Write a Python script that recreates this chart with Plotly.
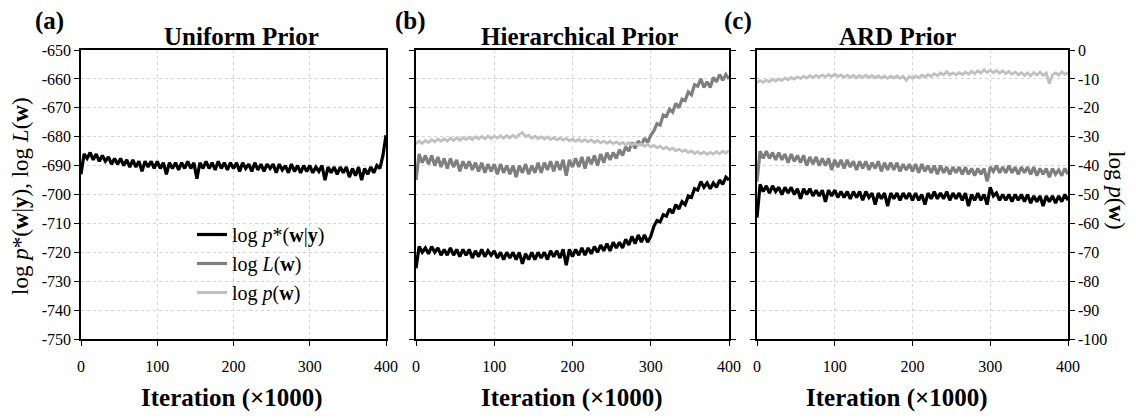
import plotly.graph_objects as go

# ---------------- data ----------------
iters = list(range(0, 401, 4))  # iteration (x1000), 101 samples

# (a) Uniform prior: log p*(w|y) (left axis units)
a_post = [-693, -686, -687.5, -685.5, -688, -686, -688.5, -686.5, -688.5, -687,
          -689.5, -687.5, -689.5, -687.5, -690, -688, -690.5, -688, -690.5, -688.5,
          -692, -688.5, -690.5, -688.5, -691, -688.5, -691, -689, -693, -689,
          -691, -689, -691.5, -689, -691, -688.5, -691, -689, -694.5, -689,
          -691, -688.5, -691, -689, -691.5, -688.5, -691, -689, -691.5, -689,
          -691, -689, -692, -689, -691, -689.5, -692, -689, -691.5, -689.5,
          -692, -689.5, -691, -689.5, -692.5, -689.5, -691.5, -690, -692.5, -689.5,
          -692, -690, -692.5, -690, -692, -690, -692.5, -690.5, -692, -690,
          -695, -690.5, -692.5, -690.5, -693, -690.5, -692.5, -690.5, -694, -691,
          -693.5, -690.5, -695, -691, -693, -690.5, -692.5, -690, -691, -686.5,
          -679.5]

# (b) Hierarchical prior
b_post = [-725.5, -718, -720, -718.5, -720.5, -718, -720, -718.5, -721, -719,
          -721, -718.5, -721, -719, -721.5, -719, -721, -719, -722, -719.5,
          -721.5, -719, -721.5, -719.5, -721, -719.5, -722, -720, -722.5, -720,
          -722, -720, -722.5, -720, -724, -720.5, -722.5, -720, -722.5, -720,
          -722, -720, -722.5, -719.5, -721.5, -719.5, -722, -719, -724.5, -719,
          -721.5, -719, -721, -718.5, -721, -718.5, -720.5, -718, -720, -717.5,
          -719.5, -717, -719.5, -716.5, -718.5, -716.5, -718.5, -715.5, -717.5, -714.5,
          -717, -714, -716.5, -714, -716.5, -714.5, -711, -709, -709.5, -707,
          -707.5, -705, -706.5, -703.5, -705, -702.5, -703.5, -700.5, -701, -698,
          -698.5, -695.5, -697.5, -696, -698, -696, -697.5, -695, -696.5, -694,
          -695]
b_lik = [-695, -686, -689, -686.5, -689.5, -686.5, -690, -687, -690.5, -687.5,
         -691, -687.5, -690.5, -688, -692, -688.5, -691, -688.5, -691.5, -689,
         -692, -689, -692.5, -689.5, -692, -689.5, -693, -689.5, -692.5, -690,
         -693, -690, -694, -690, -692.5, -689.5, -693, -690, -692.5, -689,
         -692.5, -689, -691.5, -688.5, -692, -688.5, -691.5, -688, -693.5, -688,
         -690.5, -687.5, -690.5, -687, -691, -687, -689.5, -686.5, -690, -686,
         -689, -685.5, -688, -685.5, -687.5, -684.5, -686.5, -683.5, -685, -682,
         -684, -681.5, -683, -680.5, -682, -679.5, -678, -675.5, -676, -672.5,
         -673, -670.5, -671.5, -668.5, -670, -667, -667.5, -664.5, -665.5, -662,
         -662.5, -660, -663, -661, -663, -659.5, -661, -658.5, -660.5, -658.5,
         -660]
b_prior = [-32.5, -31.5, -32.3, -31.3, -32, -31, -31.8, -30.8, -31.6, -30.7,
           -31.5, -30.5, -31.3, -30.4, -31.2, -30.3, -31, -30.2, -31, -30,
           -30.8, -29.9, -30.7, -29.8, -30.6, -29.8, -30.5, -29.7, -30.5, -29.6,
           -30.4, -29.5, -30.3, -29.2, -28.6, -30, -29.5, -30.5, -29.8, -30.7,
           -30, -30.8, -30.1, -31, -30.3, -31.1, -30.4, -31.2, -30.6, -31.4,
           -30.8, -31.6, -30.9, -31.7, -31, -31.8, -31.1, -32, -31.3, -32.1,
           -31.5, -32.3, -31.6, -32.4, -31.8, -32.6, -32, -32.8, -32.1, -32.9,
           -32.3, -33, -32.5, -33.3, -32.7, -33.5, -33, -33.8, -33.3, -34.2,
           -33.6, -34.5, -34, -34.9, -34.3, -35.1, -34.6, -35.5, -34.9, -35.8,
           -35.2, -36, -35.3, -36.1, -35.4, -36, -35.2, -35.9, -35, -35.7,
           -34.8]  # right axis units

# (c) ARD prior
c_post = [-708, -696.5, -699, -697, -699.5, -697, -699, -697.5, -700, -697.5,
          -699.5, -697.5, -700, -698, -701.5, -698, -700, -698, -700.5, -698.5,
          -700.5, -698.5, -702.5, -698.5, -700.5, -698.5, -701, -699, -701, -699,
          -701.5, -699, -701, -699, -702, -699, -701, -699.5, -703.5, -699.5,
          -701.5, -699.5, -704, -699.5, -701.5, -699.5, -702, -699.5, -701.5, -699.5,
          -702, -699.5, -702, -700, -703.5, -699.5, -701.5, -699, -701.5, -699.5,
          -701.5, -699, -702, -699.5, -701.5, -699.5, -702, -699.5, -704, -700,
          -702, -699.5, -702, -700, -703.5, -697.5, -700.5, -699.5, -702, -700,
          -702, -700, -702.5, -700, -702, -700, -702.5, -700, -703, -700.5,
          -702.5, -700.5, -704, -700.5, -702.5, -700.5, -703, -700.5, -702.5, -700,
          -702]
c_lik = [-695.5, -685, -687.5, -685, -687.5, -685.5, -688, -685.5, -688, -686,
         -689, -686, -688.5, -686.5, -689, -686.5, -690, -687, -689.5, -687,
         -690, -687.5, -690, -687.5, -691.5, -688, -690.5, -688, -691, -688,
         -690.5, -688.5, -691.5, -688.5, -691, -688.5, -691.5, -689, -691, -688.5,
         -692, -689, -691.5, -689, -691.5, -689, -692, -689.5, -691.5, -689.5,
         -692, -689.5, -692.5, -689.5, -692, -690, -692.5, -690, -693, -690,
         -692.5, -690.5, -693, -690.5, -692.5, -690.5, -693, -690.5, -693, -691,
         -693.5, -691, -693, -691, -695.5, -690.5, -692, -690, -692.5, -690.5,
         -692.5, -690, -692.5, -690.5, -693, -690.5, -692.5, -690.5, -693, -690.5,
         -693.5, -691, -693, -691, -694, -691, -693, -691.5, -693.5, -691,
         -693]
c_prior = [-11.3, -10.6, -11.2, -10.4, -11, -10.2, -10.8, -10, -10.6, -9.7,
           -10.3, -9.5, -10.1, -9.3, -9.9, -9.1, -9.7, -8.9, -9.5, -8.8,
           -9.4, -8.6, -9.3, -8.5, -9.2, -8.4, -9.2, -8.6, -9.4, -8.7,
           -9.5, -8.8, -9.6, -8.8, -9.5, -8.7, -9.5, -8.8, -9.6, -8.9,
           -9.7, -9, -9.8, -9, -9.7, -8.9, -9.8, -9.1, -10.5, -9.1,
           -9.8, -9, -9.6, -8.7, -9.4, -8.5, -9.2, -8.2, -8.9, -7.9,
           -8.6, -7.5, -8.6, -7.9, -8.6, -7.8, -8.5, -7.6, -8.4, -7.4,
           -8.2, -7.2, -8, -6.8, -7.8, -7, -7.9, -7.1, -8, -7.2,
           -8.2, -7.4, -8.4, -7.6, -8.6, -7.8, -8.8, -7.9, -8.9, -7.8,
           -8.7, -7.6, -8.8, -8, -11.6, -8.6, -7.9, -8.7, -7.6, -8.4,
           -7.8]  # right axis units

x_ticks = [0, 100, 200, 300, 400]
left_ticks = list(range(-750, -649, 10))
right_ticks = list(range(-100, 1, 10))
panel_titles = ["Uniform Prior", "Hierarchical Prior", "ARD Prior"]
panel_tags = ["(a)", "(b)", "(c)"]
legend_names = ["log <i>p</i>*(<b>w</b>|<b>y</b>)", "log <i>L</i>(<b>w</b>)", "log <i>p</i>(<b>w</b>)"]

# ---------------- style ----------------
W, H = 1136, 418
FONT = "Liberation Serif"
C_POST, C_LIK, C_PRIOR = "#000000", "#7f7f7f", "#c0c0c0"
LW = 3.2
LW_PRIOR = 2.8

def px_x(p):
    return p / W

def px_y(p):
    return 1 - p / H

def hy(v):
    return str(v)  # ASCII hyphen-minus labels as in the reference

x_domains = [[px_x(81), px_x(386)], [px_x(416), px_x(729)], [px_x(757), px_x(1068)]]
y_domain = [px_y(339), px_y(50)]

fig = go.Figure()

def add(xaxis, yaxis, y, color, name, show, w=LW):
    fig.add_trace(go.Scatter(x=iters, y=y, mode="lines", line=dict(color=color, width=w),
                             xaxis=xaxis, yaxis=yaxis, name=name, showlegend=show))

# panel a
add("x", "y", a_post, C_POST, legend_names[0], True)
fig.add_trace(go.Scatter(x=[None], y=[None], mode="lines", line=dict(color=C_LIK, width=LW),
                         xaxis="x", yaxis="y", name=legend_names[1], showlegend=True))
fig.add_trace(go.Scatter(x=[None], y=[None], mode="lines", line=dict(color=C_PRIOR, width=LW),
                         xaxis="x", yaxis="y", name=legend_names[2], showlegend=True))
# panel b
add("x2", "y4", b_prior, C_PRIOR, legend_names[2], False, LW_PRIOR)
add("x2", "y3", b_lik, C_LIK, legend_names[1], False)
add("x2", "y3", b_post, C_POST, legend_names[0], False)
# panel c
add("x3", "y6", c_prior, C_PRIOR, legend_names[2], False, LW_PRIOR)
add("x3", "y5", c_lik, C_LIK, legend_names[1], False)
add("x3", "y5", c_post, C_POST, legend_names[0], False)

grid = dict(showgrid=True, gridcolor="#d4d4d4", gridwidth=1, griddash="dot")
tickfont = dict(family=FONT, size=16, color="black")
common = dict(ticks="outside", ticklen=5, tickcolor="black", tickwidth=1.2, showline=True, linecolor="black",
              linewidth=1.5, zeroline=False, automargin=False)

def xax(i):
    return dict(domain=x_domains[i], range=[0, 400], tickvals=x_ticks, ticktext=[hy(v) for v in x_ticks],
                mirror=True, tickfont=tickfont, ticklabelstandoff=7, anchor=["y", "y3", "y5"][i],
                **common, **grid)

left_text = [hy(v) for v in left_ticks]
layout = dict(
    width=W, height=H, margin=dict(l=0, r=0, t=0, b=0),
    paper_bgcolor="white", plot_bgcolor="white",
    font=dict(family=FONT, color="black"),
    xaxis=xax(0), xaxis2=xax(1), xaxis3=xax(2),
    yaxis=dict(domain=y_domain, range=[-750, -650], tickvals=left_ticks, ticktext=left_text, mirror=True,
               tickfont=tickfont, anchor="x", **common, **grid),
    yaxis2=dict(overlaying="y", range=[-100, 0], visible=False, anchor="x", automargin=False),
    yaxis3=dict(domain=y_domain, range=[-750, -650], tickvals=left_ticks, mirror="ticks",
                showticklabels=False, anchor="x2", **common, **grid),
    yaxis4=dict(overlaying="y3", range=[-100, 0], visible=False, anchor="x2", automargin=False),
    yaxis5=dict(domain=y_domain, range=[-750, -650], tickvals=left_ticks,
                showticklabels=False, anchor="x3", **common, **grid),
    yaxis6=dict(overlaying="y5", side="right", range=[-100, 0], tickvals=right_ticks,
                ticktext=[hy(v) for v in right_ticks], showgrid=False, tickfont=tickfont, anchor="x3",
                **common),
    legend=dict(x=px_x(192), y=px_y(215), xanchor="left", yanchor="top", bgcolor="rgba(0,0,0,0)",
                font=dict(family=FONT, size=20, color="black"), tracegroupgap=0, itemwidth=30),
    showlegend=True,
)
fig.update_layout(**layout)

ann = []
title_cx = [241, 579, 897]
tag_cx = [49, 410, 738]
xtitle_cx = [232, 572, 897]
for i in range(3):
    ann.append(dict(text="<b>%s</b>" % panel_titles[i], x=px_x(title_cx[i]), y=px_y(36), xref="paper",
                    yref="paper", showarrow=False, xanchor="center", yanchor="middle",
                    font=dict(family=FONT, size=25, color="black")))
    ann.append(dict(text="<b>%s</b>" % panel_tags[i], x=px_x(tag_cx[i]), y=px_y(21), xref="paper",
                    yref="paper", showarrow=False, xanchor="center", yanchor="middle",
                    font=dict(family=FONT, size=25, color="black")))
    ann.append(dict(text="<b>Iteration (×1000)</b>", x=px_x(xtitle_cx[i]), y=px_y(398), xref="paper",
                    yref="paper", showarrow=False, xanchor="center", yanchor="middle",
                    font=dict(family=FONT, size=25, color="black")))
ann.append(dict(text="log <i>p</i>*(<b>w</b>|<b>y</b>), log <i>L</i>(<b>w</b>)", x=px_x(20), y=px_y(196),
                xref="paper", yref="paper", showarrow=False, textangle=-90, xanchor="center",
                yanchor="middle", font=dict(family=FONT, size=23, color="black")))
ann.append(dict(text="log <i>p</i>(<b>w</b>)", x=px_x(1117), y=px_y(190), xref="paper", yref="paper",
                showarrow=False, textangle=90, xanchor="center", yanchor="middle",
                font=dict(family=FONT, size=23, color="black")))
fig.update_layout(annotations=ann)

fig.write_html("out.html", config={"displayModeBar": False},
               post_script="document.body.style.margin='0px';document.body.style.padding='0px';")
